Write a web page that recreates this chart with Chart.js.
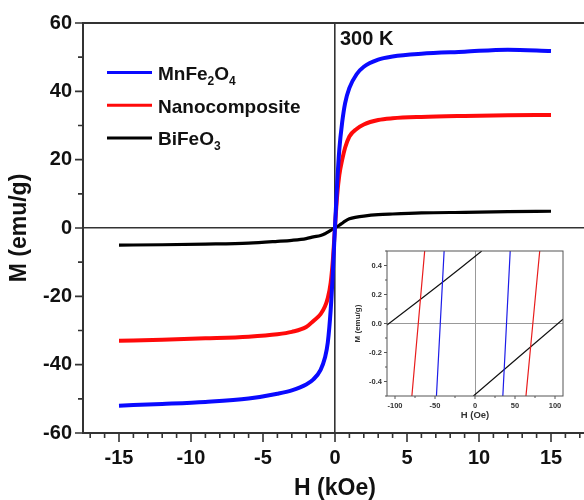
<!DOCTYPE html>
<html><head><meta charset="utf-8">
<script src="https://cdn.jsdelivr.net/npm/chart.js@4.4.1/dist/chart.umd.min.js"></script>
<style>
html,body{margin:0;padding:0;background:#fff;overflow:hidden;width:584px;height:500px;}
#main{position:absolute;left:0;top:0;}
#inset{position:absolute;left:340px;top:235px;}
</style></head><body>
<canvas id="main" width="587" height="500"></canvas>
<canvas id="inset" width="244" height="195"></canvas>
<script>
// ---------- DATA (main M-H loops, H in kOe, M in emu/g) ----------
const seriesNames = ['MnFe2O4', 'Nanocomposite', 'BiFeO3'];
const H_kOe = [-15, -12, -9, -6, -4, -3, -2, -1.5, -1, -0.7, -0.5, -0.3, -0.15, 0,
               0.15, 0.3, 0.5, 0.7, 1, 1.5, 2, 3, 4, 6, 9, 12, 15];
const M_MnFe2O4 = [-52.0, -51.5, -50.9, -49.9, -48.5, -47.5, -45.8, -44.3, -41.5, -38.0, -33.5, -24.0, -13.0, 0.5,
                   13.0, 23.0, 31.0, 36.5, 41.0, 45.0, 47.2, 49.3, 50.2, 51.0, 51.6, 52.2, 51.8];
const M_Nanocomposite = [-33.0, -32.7, -32.3, -31.8, -31.1, -30.4, -29.0, -27.2, -25.2, -23.0, -20.5, -16.0, -9.5, 0.3,
                         9.5, 15.5, 20.0, 23.5, 26.8, 29.0, 30.3, 31.6, 32.1, 32.5, 32.8, 33.0, 33.1];
const M_BiFeO3 = [-5.0, -4.9, -4.7, -4.4, -3.9, -3.6, -3.1, -2.6, -2.2, -1.7, -1.2, -0.7, -0.3, 0.1,
                  0.4, 0.8, 1.4, 2.0, 2.7, 3.2, 3.5, 3.9, 4.1, 4.4, 4.6, 4.8, 4.9];
const xTickValues = [-15, -10, -5, 0, 5, 10, 15];
const yTickValues = [-60, -40, -20, 0, 20, 40, 60];
const annotationText = '300 K';

// ---------- DATA (inset, H in Oe, M in emu/g) ----------
const inset_MnFe2O4_left_H = [-48.2, -38.6];
const inset_MnFe2O4_left_M = [-0.5, 0.5];
const inset_MnFe2O4_right_H = [34.8, 44.0];
const inset_MnFe2O4_right_M = [-0.5, 0.5];
const inset_Nano_left_H = [-78.9, -62.9];
const inset_Nano_left_M = [-0.5, 0.5];
const inset_Nano_right_H = [63.7, 80.9];
const inset_Nano_right_M = [-0.5, 0.5];
const inset_BiFeO3_upper_H = [-110, -40.6, 8.4];
const inset_BiFeO3_upper_M = [-0.01, 0.284, 0.5];
const inset_BiFeO3_lower_H = [-2, 110];
const inset_BiFeO3_lower_M = [-0.5, 0.03];
const insetXTicks = [-100, -50, 0, 50, 100];
const insetYTicks = [-0.4, -0.2, 0, 0.2, 0.4];

// ---------- helpers ----------
const FONT = "'Liberation Sans', Arial, Helvetica, sans-serif";
Chart.defaults.font.family = FONT;
const pts = (xs, ys) => xs.map((x, i) => ({x, y: ys[i]}));
const COLORS = {blue: '#0a0aff', red: '#ff0a0a', black: '#000000'};

function drawChem(ctx, text, x, y, bigFont, smallFont, subDy) {
  const parts = text.match(/(\d+|\D+)/g);
  for (const p of parts) {
    const isSub = /^\d+$/.test(p);
    ctx.font = isSub ? smallFont : bigFont;
    ctx.fillText(p, x, y + (isSub ? subDy : 0));
    x += ctx.measureText(p).width;
  }
}

// ---------- main chart decorations ----------
const mainDecor = {
  id: 'mainDecor',
  beforeDatasetsDraw(chart) {
    const {ctx, chartArea: a, scales: {x, y}} = chart;
    ctx.save();
    ctx.strokeStyle = '#333';
    ctx.lineWidth = 2;
    ctx.beginPath();
    ctx.moveTo(a.left, a.top); ctx.lineTo(a.right, a.top);
    ctx.stroke();
    ctx.lineWidth = 1.6;
    ctx.beginPath();
    for (let v = Math.ceil(x.min); v <= x.max; v += 1) {
      const px = x.getPixelForValue(v);
      const len = (v % 5 === 0) ? 9 : 5;
      ctx.moveTo(px, a.bottom); ctx.lineTo(px, a.bottom + len);
    }
    for (let v = -60; v <= 60; v += 10) {
      const py = y.getPixelForValue(v);
      const len = (v % 20 === 0) ? 8 : 5;
      ctx.moveTo(a.left, py); ctx.lineTo(a.left - len, py);
    }
    ctx.stroke();
    ctx.restore();
  },
  afterDraw(chart) {
    const {ctx, chartArea: a, scales: {x}} = chart;
    ctx.save();
    ctx.fillStyle = '#111';
    ctx.textBaseline = 'alphabetic';
    ctx.font = 'bold 20px ' + FONT;
    ctx.fillText(annotationText, x.getPixelForValue(0) + 5, a.top + 22);
    // legend
    const o = chart.options.plugins.mainDecor;
    chart.data.datasets.forEach((ds, i) => {
      const yLine = o.legendTop + i * o.legendGap;
      ctx.strokeStyle = ds.borderColor;
      ctx.lineWidth = 3;
      ctx.beginPath();
      ctx.moveTo(o.legendX0, yLine); ctx.lineTo(o.legendX1, yLine);
      ctx.stroke();
      ctx.fillStyle = '#111';
      drawChem(ctx, ds.label, o.legendTextX, yLine + 7.5, 'bold 19px ' + FONT, 'bold 12px ' + FONT, 5);
    });
    ctx.restore();
  }
};

const zeroGrid = (c) => (c.tick && c.tick.value === 0) ? '#333' : 'rgba(0,0,0,0)';

new Chart(document.getElementById('main'), {
  type: 'line',
  data: {
    datasets: [
      {label: seriesNames[0], data: pts(H_kOe, M_MnFe2O4), borderColor: COLORS.blue, borderWidth: 4},
      {label: seriesNames[1], data: pts(H_kOe, M_Nanocomposite), borderColor: COLORS.red, borderWidth: 4},
      {label: seriesNames[2], data: pts(H_kOe, M_BiFeO3), borderColor: COLORS.black, borderWidth: 3.2}
    ].map(d => Object.assign(d, {pointRadius: 0, fill: false, cubicInterpolationMode: 'monotone'}))
  },
  options: {
    responsive: false,
    devicePixelRatio: 1,
    animation: false,
    layout: {padding: {top: 23, right: 0, left: 0, bottom: 0}},
    plugins: {
      legend: {display: false},
      tooltip: {enabled: false},
      mainDecor: {legendX0: 107, legendX1: 152, legendTextX: 158, legendTop: 72.5, legendGap: 32.7}
    },
    scales: {
      x: {
        type: 'linear', min: -17.5, max: 17.5,
        afterBuildTicks: s => { s.ticks = xTickValues.map(v => ({value: v})); },
        afterFit: s => { s.height = 67; },
        ticks: {color: '#111', font: {size: 20, weight: 'bold'}, padding: 13, maxRotation: 0,
                callback: v => String(v)},
        grid: {drawTicks: false, color: zeroGrid, lineWidth: 1.6},
        border: {display: true, color: '#333', width: 2},
        title: {display: true, text: 'H (kOe)', color: '#111',
                font: {size: 23, weight: 'bold', lineHeight: 1}, padding: {top: 0, bottom: 0}}
      },
      y: {
        type: 'linear', min: -60, max: 60,
        afterBuildTicks: s => { s.ticks = yTickValues.map(v => ({value: v})); },
        afterFit: s => { s.width = 83; },
        ticks: {color: '#111', font: {size: 20, weight: 'bold'}, padding: 11,
                callback: v => String(v)},
        grid: {drawTicks: false, color: zeroGrid, lineWidth: 1.6},
        border: {display: true, color: '#333', width: 2},
        title: {display: true, text: 'M (emu/g)', color: '#111',
                font: {size: 23, weight: 'bold', lineHeight: 1}, padding: {top: 8, bottom: 0}}
      }
    }
  },
  plugins: [mainDecor]
});

// ---------- inset ----------
const insetDecor = {
  id: 'insetDecor',
  afterDatasetsDraw(chart) {
    const {ctx, chartArea: a, scales: {x, y}} = chart;
    ctx.save();
    ctx.strokeStyle = '#555';
    ctx.lineWidth = 1;
    ctx.strokeRect(a.left, a.top, a.right - a.left, a.bottom - a.top);
    ctx.beginPath();
    for (let v = -100; v <= 100; v += 25) {
      const px = x.getPixelForValue(v);
      const len = (v % 50 === 0) ? 3 : 2;
      ctx.moveTo(px, a.bottom); ctx.lineTo(px, a.bottom + len);
    }
    for (let k = -5; k <= 5; k++) {
      const py = y.getPixelForValue(k / 10);
      const len = (k % 2 === 0) ? 3 : 2;
      ctx.moveTo(a.left, py); ctx.lineTo(a.left - len, py);
    }
    ctx.stroke();
    ctx.restore();
  }
};
const insetZero = (c) => (c.tick && c.tick.value === 0) ? '#999' : 'rgba(0,0,0,0)';
const insetLine = (data, color) => ({data, borderColor: color, borderWidth: 1.2, pointRadius: 0, fill: false, tension: 0.2});

new Chart(document.getElementById('inset'), {
  type: 'line',
  data: {
    datasets: [
      insetLine(pts(inset_Nano_left_H, inset_Nano_left_M), '#e81c1c'),
      insetLine(pts(inset_Nano_right_H, inset_Nano_right_M), '#e81c1c'),
      insetLine(pts(inset_MnFe2O4_left_H, inset_MnFe2O4_left_M), '#1c1ce8'),
      insetLine(pts(inset_MnFe2O4_right_H, inset_MnFe2O4_right_M), '#1c1ce8'),
      insetLine(pts(inset_BiFeO3_upper_H, inset_BiFeO3_upper_M), '#111'),
      insetLine(pts(inset_BiFeO3_lower_H, inset_BiFeO3_lower_M), '#111')
    ]
  },
  options: {
    responsive: false,
    devicePixelRatio: 1,
    animation: false,
    layout: {padding: {top: 16, right: 21, left: 0, bottom: 0}},
    plugins: {legend: {display: false}, tooltip: {enabled: false}},
    scales: {
      x: {
        type: 'linear', min: -110, max: 110,
        afterBuildTicks: s => { s.ticks = insetXTicks.map(v => ({value: v})); },
        afterFit: s => { s.height = 34; },
        ticks: {color: '#333', font: {size: 7.5, weight: 'bold'}, padding: 5, maxRotation: 0,
                callback: v => String(v)},
        grid: {drawTicks: false, color: insetZero, lineWidth: 1},
        border: {display: false},
        title: {display: true, text: 'H (Oe)', color: '#333',
                font: {size: 9.5, weight: 'bold', lineHeight: 1}, padding: {top: 0, bottom: 10}}
      },
      y: {
        type: 'linear', min: -0.5, max: 0.5,
        afterBuildTicks: s => { s.ticks = insetYTicks.map(v => ({value: v})); },
        afterFit: s => { s.width = 47; },
        ticks: {color: '#333', font: {size: 7.5, weight: 'bold'}, padding: 5,
                callback: v => Number(v).toFixed(1)},
        grid: {drawTicks: false, color: insetZero, lineWidth: 1},
        border: {display: false},
        title: {display: true, text: 'M (emu/g)', color: '#333',
                font: {size: 8, weight: 'bold', lineHeight: 1}, padding: {top: 14, bottom: 0}}
      }
    }
  },
  plugins: [insetDecor]
});
</script></body></html>
